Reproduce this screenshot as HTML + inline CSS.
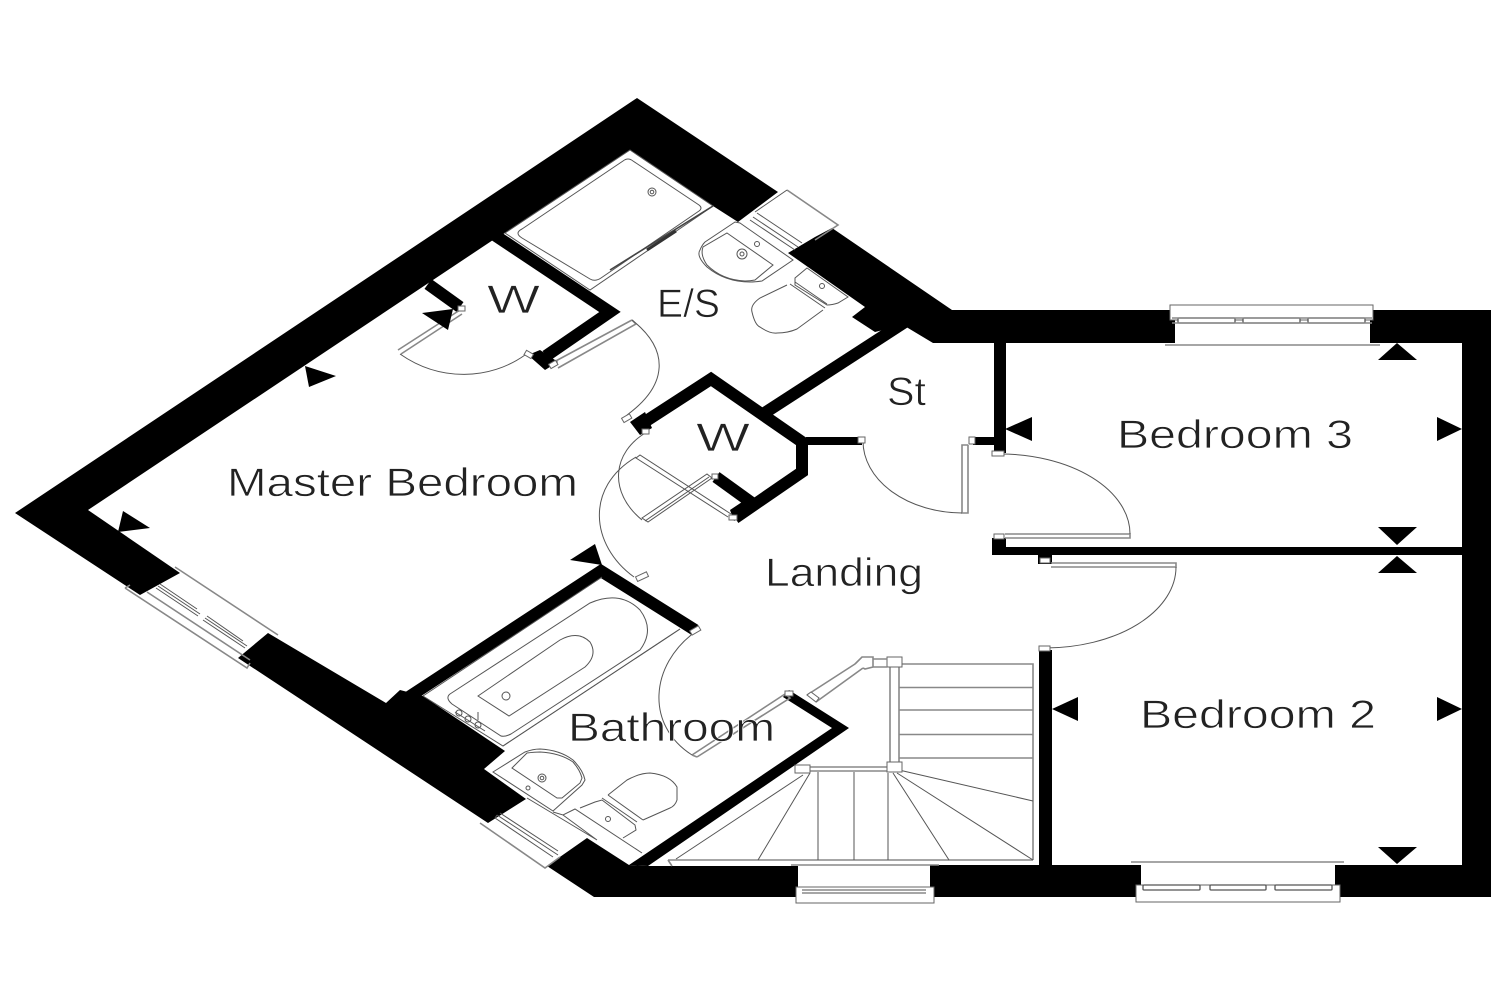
<!DOCTYPE html>
<html><head><meta charset="utf-8"><title>Floor plan</title>
<style>html,body{margin:0;padding:0;background:#fff}svg{display:block}
text{font-family:"Liberation Sans",sans-serif;fill:#222;font-size:40px;stroke:#fff;stroke-width:.7px}
.t{fill:none;stroke:#555;stroke-width:1}.g{fill:none;stroke:#888;stroke-width:1.6}.w{fill:#fff;stroke:#666;stroke-width:1}
.k{fill:none;stroke:#000;stroke-linejoin:miter;stroke-width:12}</style></head><body>
<svg width="1500" height="1000" viewBox="0 0 1500 1000" xmlns="http://www.w3.org/2000/svg">
<rect width="1500" height="1000" fill="#fff"/>
<!-- outer walls -->
<path fill="#000" d="M15,513L637,98L778,192L738,222L713,206L630,150L505,233L493,240L88,510L180,573L140,595Z"/>
<path fill="#000" d="M268,633L238,658L488,823L526,799L484,769L505,751L423,696L400,690L386,703Z"/>
<path fill="#000" d="M832,228L952,310L1175,310L1175,343L933,343L903,325L875,332L852,317L865,307L788,253L815,237Z"/>
<path fill="#000" d="M1370,310H1491V897H1335V865H1462V343H1370Z"/>
<path fill="#000" d="M587,838L547,866L594,897H798V866H648L629,865Z"/>
<rect x="930" y="865" width="211" height="32" fill="#000"/>
<!-- inner walls -->
<polyline class="k" points="395,706 601,571 695,630"/>
<polyline class="k" points="490,232 610,312 546,356"/>
<path d="M528,355L540,350L558,362L545,370Z" fill="#000"/>
<polyline class="k" points="428,284 460,307"/>
<polyline class="k" points="905,322 760,416"/>
<polyline class="k" points="640,425 711,379 802,442 802,472 735,518"/>
<polyline class="k" points="716,477 752,503"/>
<path d="M630,422L645,412L652,428L640,435Z" fill="#000"/>
<path d="M730,510L745,500L745,515L734,521Z" fill="#000"/>
<rect x="806" y="437" width="56" height="8" fill="#000"/>
<rect x="973" y="437" width="23" height="8" fill="#000"/>
<rect x="994" y="343" width="12" height="110" fill="#000"/>
<rect x="992" y="547" width="470" height="8" fill="#000"/>
<rect x="992" y="538" width="14" height="17" fill="#000"/>
<rect x="1038" y="553" width="14" height="11" fill="#000"/>
<rect x="1039" y="650" width="13" height="215" fill="#000"/>
<polygon points="789,690 849,728 648,866 629,865 832,728 783,697" fill="#000"/>
<!-- windows -->
<rect class="w" x="1170" y="305" width="203" height="15"/>
<g fill="#fff" stroke="#555" stroke-width="1.3"><rect x="1178" y="318" width="57" height="5" rx="1"/><rect x="1243" y="318" width="57" height="5" rx="1"/><rect x="1308" y="318" width="57" height="5" rx="1"/></g>
<path class="g" d="M1165,345H1380M1172,318H1372M1172,323H1372"/>
<path class="g" d="M1131,862H1344"/>
<rect class="w" x="1136" y="885" width="204" height="17"/>
<g fill="#fff" stroke="#555" stroke-width="1.3"><rect x="1143" y="885" width="57" height="5" rx="1"/><rect x="1210" y="885" width="56" height="5" rx="1"/><rect x="1275" y="885" width="57" height="5" rx="1"/></g>
<path class="g" d="M791,865H939"/>
<rect class="w" x="796" y="887" width="138" height="16"/>
<path class="g" d="M802,890H926M802,893H926"/>
<path class="g" d="M125,588L247,668L250,663M125,588L130,585M175,567L278,635M147,592L250,660"/>
<path class="t" d="M156,588L198,616M158,586L200,614M160,584L197,609M203,620L245,648M205,618L247,646M207,616L243,641"/>
<path class="g" d="M787,190L838,225L815,240"/>
<path class="t" d="M757,213L802,243M753,217L798,247M750,220L795,250M787,190L755,212"/>
<path class="g" d="M480,823L545,868L560,857"/>
<path class="t" d="M497,815L558,855M500,813L558,851M495,818L553,857M497,815L495,818"/>
<!-- doors -->
<path class="g" d="M1005,534H1130V538H1005"/><path class="t" d="M1000,454A130,80 0 0 1 1130,534"/>
<path class="g" d="M1051,563H1176V567H1051"/><path class="t" d="M1045,648A131,81 0 0 0 1176,567"/>
<path class="g" d="M968,445V513H962V445H968"/><path class="t" d="M863,441A100,72 0 0 0 962,513"/>
<path class="t" d="M645,521L709,477M642,518L707,474L712,478L648,522Z"/>
<path class="t" d="M728,517L636,458L640,455L731,514"/>
<path class="t" d="M647,432C612,452 608,492 642,520"/>
<path class="t" d="M634,577C590,545 585,487 636,457"/>
<path class="g" d="M552,363L632,320M558,368L636,324L632,320"/>
<path class="t" d="M632,320C670,350 668,385 627,415"/>
<path class="g" d="M398,350L460,310M401,354L462,314"/>
<path class="t" d="M400,354C440,382 490,380 525,355"/>
<path class="g" d="M692,755L785,694M697,757L790,698L785,694M692,755L697,757"/>
<path class="t" d="M692,755C645,725 650,665 695,632"/>
<path class="t" d="M503,746L680,629"/>
<!-- door jambs -->
<g class="w"><rect x="858" y="437" width="7" height="6"/><rect x="969" y="437" width="6" height="7"/><rect x="992" y="451" width="12" height="5"/><rect x="994" y="534" width="10" height="5"/><rect x="1040" y="558" width="10" height="5"/><rect x="1039" y="646" width="11" height="5"/>
<rect x="622" y="416" width="9" height="5" transform="rotate(-30 626 418)"/><rect x="642" y="429" width="7" height="5"/><rect x="729" y="515" width="8" height="5"/><rect x="712" y="474" width="6" height="5"/>
<rect x="636" y="575" width="12" height="5" transform="rotate(-25 640 577)"/><rect x="690" y="628" width="10" height="5" transform="rotate(-30 695 630)"/>
<rect x="458" y="306" width="7" height="5"/><rect x="525" y="352" width="8" height="5" transform="rotate(30 529 354)"/><rect x="549" y="362" width="8" height="5" transform="rotate(-30 553 364)"/><rect x="785" y="691" width="8" height="5"/></g>
<!-- stairs -->
<path class="g" d="M890,667V762M899,667V762M810,767H887M810,771H887M902,664H1033V860M899,687.5H1033M899,710H1033M899,734.5H1033M899,758H1033M668,860H1033M668,860L672,866"/>
<path class="t" d="M899,770L1033,801M897,773L1033,860M893,773L949,860M888,773V860M854,772V860M818,772V860M810,773L758,860M803,775L676,859"/>
<rect class="w" x="887" y="657" width="15" height="10"/><rect class="w" x="887" y="762" width="15" height="10"/><rect class="w" x="795" y="765" width="15" height="8"/>
<path class="g" d="M873,659H887M873,667H887M855,664L807,695M863,668L816,702M855,664L862,657H873V667L865,669L863,668"/>
<path class="w" d="M807,695L811,692L819,698L816,702Z"/>
<!-- shower -->
<path class="t" d="M505,233L630,150L713,206L590,290Z"/>
<path class="t" d="M522,229L623,161Q628,157 633,161L699,205Q703,208 699,211L601,278Q595,282 590,279L522,238Q514,233 522,229Z"/>
<circle class="t" cx="652" cy="192" r="4"/><circle class="t" cx="652" cy="192" r="1.8"/>
<path d="M610,270L713,206" stroke="#444" stroke-width="1.6" fill="none"/><path d="M647,250L676,231" stroke="#333" stroke-width="3" fill="none"/>
<!-- ES basin + wc -->
<path class="t" d="M740,223L793,260L762,281Q755,282 750,282Q725,282 707,267Q696,256 700,250Q702,245 705,242L735,222Z"/>
<path class="t" d="M727,233L773,265L755,280Q750,281 745,281Q722,280 707,265Q700,255 703,247Z"/>
<circle class="t" cx="742" cy="254" r="5"/><circle class="t" cx="742" cy="254" r="2"/><circle class="t" cx="757" cy="244" r="2.5"/>
<path class="t" d="M795,278L807,268L848,297L838,303Q832,305 827,305L795,285Z"/><path class="t" d="M790,284L825,308M795,282L827,304"/>
<path class="t" d="M787,285L760,298Q750,305 752,312Q755,325 760,327Q770,334 777,333Q788,333 797,329L823,310"/>
<circle class="t" cx="822" cy="286" r="2.5"/>
<!-- bath -->
<path class="t" d="M423,696L602,577M423,696L503,746L680,629"/>
<path class="t" d="M450,694L590,603Q620,590 640,610Q655,630 640,650L511,734Q505,737 501,736L452,704Q445,698 450,694Z"/>
<path class="t" d="M478,696L560,640Q578,630 590,642Q598,655 585,667L509,716Z"/>
<circle class="t" cx="506" cy="696" r="4"/>
<g class="t"><circle cx="459" cy="713" r="3"/><circle cx="468" cy="719" r="3"/><circle cx="478" cy="725" r="3"/><path d="M478,712V720M455,712L485,731"/></g>
<!-- bath basin + wc -->
<path class="t" d="M493,772L525,752Q533,749 540,749Q560,750 573,760Q583,770 585,780L582,785L553,811Z"/>
<path class="t" d="M512,768L527,753Q535,752 540,752Q560,753 573,762Q580,770 582,778L580,783L562,798H557Z"/>
<path class="t" d="M527,798L597,840M553,812L563,815L575,809L642,853M563,815L597,840"/>
<circle class="t" cx="542" cy="778" r="4"/><circle class="t" cx="542" cy="778" r="1.8"/><circle class="t" cx="528" cy="788" r="2"/>
<path class="t" d="M580,808L595,802L602,800L635,825L636,830L623,838M602,798L637,822M608,795L643,820"/>
<path class="t" d="M608,795L627,780Q640,773 650,773Q670,775 677,787V800Q675,806 670,808L643,820"/>
<circle class="t" cx="608" cy="819" r="2.5"/>
<!-- markers -->
<g fill="#000">
<polygon points="305,366 336,376 309,387"/><polygon points="123,511 150,528 118,532"/><polygon points="422,313 453,309 448,330"/><polygon points="570,560 595,544 602,565"/>
<polygon points="1005,429 1032,417 1032,441"/><polygon points="1378,360 1417,360 1397,343"/><polygon points="1462,429 1437,417 1437,441"/><polygon points="1378,527 1417,527 1397,545"/><polygon points="1378,573 1417,573 1397,556"/><polygon points="1052,709 1078,697 1078,721"/><polygon points="1462,709 1437,697 1437,721"/><polygon points="1378,847 1417,847 1397,864"/>
</g>
<!-- labels -->
<text x="227" y="496" textLength="351" lengthAdjust="spacingAndGlyphs">Master Bedroom</text>
<text x="1117" y="448" textLength="236" lengthAdjust="spacingAndGlyphs">Bedroom 3</text>
<text x="1140" y="728" textLength="236" lengthAdjust="spacingAndGlyphs">Bedroom 2</text>
<text x="765" y="586" textLength="158" lengthAdjust="spacingAndGlyphs">Landing</text>
<text x="568" y="741" textLength="207" lengthAdjust="spacingAndGlyphs">Bathroom</text>
<text x="887" y="405" textLength="39" lengthAdjust="spacingAndGlyphs">St</text>
<text x="657" y="317" textLength="63" lengthAdjust="spacingAndGlyphs">E/S</text>
<text x="487" y="313" textLength="53" lengthAdjust="spacingAndGlyphs">W</text>
<text x="696" y="451" textLength="54" lengthAdjust="spacingAndGlyphs">W</text>
</svg></body></html>
